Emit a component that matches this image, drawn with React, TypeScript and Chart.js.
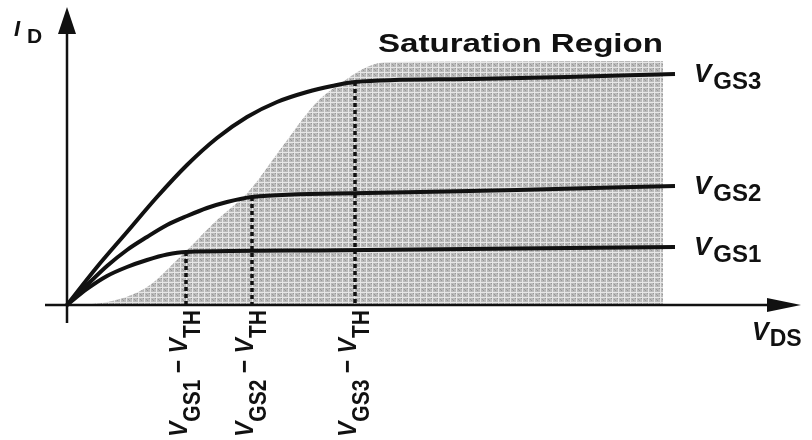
import React, { useEffect, useRef } from "react";
import { Chart, registerables } from "chart.js";

Chart.register(...registerables);

// ---- data (arbitrary units: VDS horizontal, ID vertical) ----
const VGS1_VDS = [0, 2, 4, 6, 8, 10, 11.9, 25, 40, 60.8];
const VGS1_ID = [0, 1.6, 2.9, 3.8, 4.5, 5.05, 5.3, 5.45, 5.6, 5.8];
const VGS2_VDS = [0, 2, 4, 6, 8, 10, 12, 14, 16, 18.5, 30, 45, 60.8];
const VGS2_ID = [0, 2.0, 3.9, 5.5, 6.8, 8.0, 8.9, 9.7, 10.3, 10.8, 11.2, 11.5, 11.9];
const VGS3_VDS = [0, 3, 6, 9, 12, 15, 18, 21, 24, 26.5, 28.8, 40, 50, 60.8];
const VGS3_ID = [0, 3.8, 7.3, 10.8, 14.0, 16.7, 18.8, 20.3, 21.3, 21.9, 22.3, 22.6, 22.8, 23.1];

// VGS - VTH (edge of saturation) for each curve, and the current there
const VOV = [11.9, 18.5, 28.8];
const VOV_ID = [5.3, 10.8, 22.3];
const VOV_LABELS = ["1", "2", "3"];

// saturation region outline (upper-left edge, then flat top)
const SAT_VDS = [0, 4, 8, 11.5, 15, 18.3, 21.5, 25, 28, 30, 32, 59.6];
const SAT_ID = [0, 0.3, 1.8, 5.0, 8.5, 11.5, 15.8, 20.3, 22.6, 23.8, 24.3, 24.4];

const CURVE_LABELS = ["GS1", "GS2", "GS3"];

// axis extents
const X_MIN = -2.2;
const X_MAX = 73.4;
const Y_MIN = -1.8;
const Y_MAX = 29.8;

const FONT = '"Liberation Sans", Arial, Helvetica, sans-serif';

const pts = (xs: number[], ys: number[]) => xs.map((x, i) => ({ x, y: ys[i] }));

type Part = { t: string; font: string; dy?: number; gap?: number };

function drawRich(
  ctx: CanvasRenderingContext2D,
  parts: Part[],
  x: number,
  y: number,
  angle = 0,
  sx = 1,
  sy = 1
) {
  ctx.save();
  ctx.translate(x, y);
  ctx.rotate(angle);
  ctx.scale(sx, sy);
  ctx.fillStyle = "#111";
  ctx.textBaseline = "alphabetic";
  ctx.textAlign = "left";
  let cx = 0;
  for (const p of parts) {
    ctx.font = p.font;
    ctx.fillText(p.t, cx, p.dy || 0);
    cx += ctx.measureText(p.t).width + (p.gap || 0);
  }
  ctx.restore();
}

function makePattern(ctx: CanvasRenderingContext2D) {
  const c = document.createElement("canvas");
  c.width = 6;
  c.height = 5;
  const g = c.getContext("2d")!;
  g.fillStyle = "#bababa";
  g.fillRect(0, 0, 6, 5);
  g.fillStyle = "#e6e6e6";
  g.fillRect(0, 0, 1, 5);
  g.fillRect(0, 2, 6, 1);
  g.fillStyle = "#989898";
  g.fillRect(3, 0, 1, 1);
  g.fillRect(2, 4, 1, 1);
  g.fillRect(5, 3, 1, 1);
  return ctx.createPattern(c, "repeat");
}

const decorPlugin = {
  id: "decor",
  afterDatasetsDraw(chart: any) {
    const ctx: CanvasRenderingContext2D = chart.ctx;
    const xs = chart.scales.x;
    const ys = chart.scales.y;
    const ox = xs.getPixelForValue(0);
    const oy = ys.getPixelForValue(0);
    const left = xs.getPixelForValue(X_MIN);
    const right = xs.getPixelForValue(X_MAX);
    const top = ys.getPixelForValue(Y_MAX);
    const bottom = ys.getPixelForValue(Y_MIN);
    ctx.save();
    ctx.strokeStyle = "#111";
    ctx.fillStyle = "#111";
    ctx.lineWidth = 2.5;
    // x axis
    ctx.beginPath();
    ctx.moveTo(left, oy);
    ctx.lineTo(right - 30, oy);
    ctx.stroke();
    ctx.beginPath();
    ctx.moveTo(right, oy);
    ctx.lineTo(right - 34, oy - 7);
    ctx.lineTo(right - 34, oy + 7);
    ctx.closePath();
    ctx.fill();
    // y axis
    ctx.beginPath();
    ctx.moveTo(ox, bottom);
    ctx.lineTo(ox, top + 22);
    ctx.stroke();
    ctx.beginPath();
    ctx.moveTo(ox, top);
    ctx.lineTo(ox - 9, top + 27);
    ctx.lineTo(ox + 9, top + 27);
    ctx.closePath();
    ctx.fill();
    ctx.restore();
  },
  afterDraw(chart: any) {
    const ctx: CanvasRenderingContext2D = chart.ctx;
    const xs = chart.scales.x;
    const ys = chart.scales.y;
    const oy = ys.getPixelForValue(0);

    // Title
    ctx.save();
    ctx.font = `bold 25px ${FONT}`;
    const w = ctx.measureText("Saturation Region").width;
    ctx.restore();
    drawRich(ctx, [{ t: "Saturation Region", font: `bold 25px ${FONT}` }], 378, 52, 0, 285 / w, 1);

    // I_D
    drawRich(
      ctx,
      [
        { t: "I", font: `italic bold 22px ${FONT}`, gap: 7 },
        { t: "D", font: `bold 21px ${FONT}`, dy: 7 },
      ],
      14,
      36
    );

    // V_DS
    drawRich(
      ctx,
      [
        { t: "V", font: `italic bold 25px ${FONT}`, gap: 1 },
        { t: "DS", font: `bold 23px ${FONT}`, dy: 6 },
      ],
      752,
      340
    );

    // curve labels at right
    const ends = [
      VGS1_ID[VGS1_ID.length - 1],
      VGS2_ID[VGS2_ID.length - 1],
      VGS3_ID[VGS3_ID.length - 1],
    ];
    const endX = xs.getPixelForValue(VGS3_VDS[VGS3_VDS.length - 1]);
    ends.forEach((v, i) => {
      const py = ys.getPixelForValue(v);
      drawRich(
        ctx,
        [
          { t: "V", font: `italic bold 26px ${FONT}`, gap: 2 },
          { t: CURVE_LABELS[i], font: `bold 24px ${FONT}`, dy: 7 },
        ],
        endX + 19,
        py + 8
      );
    });

    // rotated VGS - VTH labels
    VOV.forEach((v, i) => {
      const px = xs.getPixelForValue(v);
      drawRich(
        ctx,
        [
          { t: "V", font: `italic bold 23px ${FONT}` },
          { t: "GS" + VOV_LABELS[i], font: `bold 21px ${FONT}`, dy: 11 },
          { t: " \u2212 ", font: `bold 23px ${FONT}` },
          { t: "V", font: `italic bold 23px ${FONT}` },
          { t: "TH", font: `bold 21px ${FONT}`, dy: 11 },
        ],
        px + 1,
        oy + 132,
        -Math.PI / 2,
        1,
        1.15
      );
    });
  },
};

export default function App() {
  const ref = useRef<HTMLCanvasElement>(null);

  useEffect(() => {
    const canvas = ref.current!;
    const ctx = canvas.getContext("2d")!;
    const pattern = makePattern(ctx);

    const curve = (xs: number[], ys: number[]) => ({
      data: pts(xs, ys),
      borderColor: "#111",
      borderWidth: 4,
      pointRadius: 0,
      cubicInterpolationMode: "monotone" as const,
      fill: false,
    });

    const dotted = VOV.map((v, i) => ({
      data: [
        { x: v, y: VOV_ID[i] },
        { x: v, y: 0 },
      ],
      borderColor: "#111",
      borderWidth: 3.5,
      borderDash: [4, 3],
      pointRadius: 0,
      fill: false,
    }));

    const chart = new Chart(canvas, {
      type: "line",
      data: {
        datasets: [
          curve(VGS3_VDS, VGS3_ID),
          curve(VGS2_VDS, VGS2_ID),
          curve(VGS1_VDS, VGS1_ID),
          ...dotted,
          {
            data: pts(SAT_VDS, SAT_ID),
            borderWidth: 0,
            borderColor: "rgba(0,0,0,0)",
            backgroundColor: pattern as any,
            pointRadius: 0,
            cubicInterpolationMode: "monotone" as const,
            fill: "origin",
          },
        ] as any,
      },
      options: {
        animation: false,
        responsive: false,
        devicePixelRatio: 1,
        events: [],
        layout: { padding: { left: 45, right: 11, top: 7, bottom: 117 } },
        scales: {
          x: { type: "linear", min: X_MIN, max: X_MAX, display: false },
          y: { type: "linear", min: Y_MIN, max: Y_MAX, display: false },
        },
        plugins: {
          legend: { display: false },
          tooltip: { enabled: false },
        },
      },
      plugins: [decorPlugin],
    });
    return () => chart.destroy();
  }, []);

  return (
    <div
      style={{
        position: "fixed",
        left: 0,
        top: 0,
        width: 812,
        height: 440,
        background: "#fff",
      }}
    >
      <canvas ref={ref} width={812} height={440} style={{ display: "block" }} />
    </div>
  );
}
